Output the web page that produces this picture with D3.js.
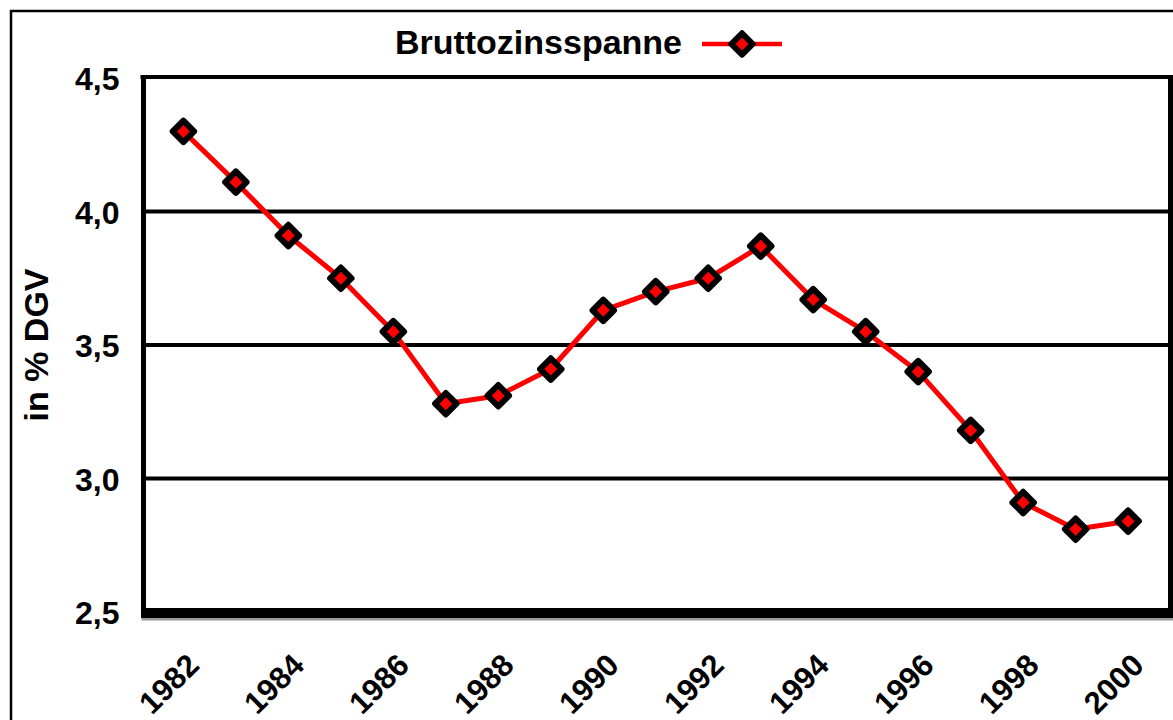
<!DOCTYPE html>
<html>
<head>
<meta charset="utf-8">
<script src="https://cdn.jsdelivr.net/npm/d3@7"></script>
<style>
    body { margin: 0; background: #ffffff; }
    #chart-area { width: 1173px; height: 720px; overflow: hidden; }
    text { font-family: "Liberation Sans", Arial, sans-serif; font-weight: bold; fill: #000; }
</style>
</head>
<body>
<div id="chart-area"></div>
<script>
// data
let years = [1982, 1983, 1984, 1985, 1986, 1987, 1988, 1989, 1990, 1991,
    1992, 1993, 1994, 1995, 1996, 1997, 1998, 1999, 2000];
let spreadValues = [4.30, 4.11, 3.91, 3.75, 3.55, 3.28, 3.31, 3.41, 3.63, 3.70,
    3.75, 3.87, 3.67, 3.55, 3.40, 3.18, 2.91, 2.81, 2.84];
let yTicks = [2.5, 3.0, 3.5, 4.0, 4.5];
let xLabelYears = [1982, 1984, 1986, 1988, 1990, 1992, 1994, 1996, 1998, 2000];
let seriesName = "Bruttozinsspanne";
let yTitle = "in % DGV";

class SpreadChart {

    constructor(_parentElement, _years, _values) {
        this.parentElement = _parentElement;
        this.years = _years;
        this.values = _values;

        this.initVis();
    }

    initVis() {
        let vis = this;

        vis.width = 1173;
        vis.height = 720;
        vis.plot = { left: 143.5, right: 1170.5, top: 78, bottom: 612 };

        vis.svg = d3.select("#" + vis.parentElement).append("svg")
            .attr("width", vis.width)
            .attr("height", vis.height);

        // outer frame
        vis.svg.append("rect")
            .attr("x", 11)
            .attr("y", 11)
            .attr("width", 1300)
            .attr("height", 900)
            .attr("fill", "none")
            .attr("stroke", "black")
            .attr("stroke-width", 2.5);

        vis.x = d3.scalePoint()
            .domain(vis.years)
            .range([vis.plot.left, 1168])
            .padding(0.76);

        vis.y = d3.scaleLinear()
            .domain([2.5, 4.5])
            .range([vis.plot.bottom, vis.plot.top]);

        let de = d3.formatLocale({ decimal: ",", thousands: ".", grouping: [3], currency: ["", "€"] });

        // grid lines
        vis.svg.append("g")
            .attr("class", "grid")
            .selectAll("line")
            .data(yTicks.filter(d => d > 2.5 && d < 4.5))
            .enter()
            .append("line")
            .attr("x1", vis.plot.left)
            .attr("x2", vis.plot.right)
            .attr("y1", d => vis.y(d))
            .attr("y2", d => vis.y(d))
            .attr("stroke", "black")
            .attr("stroke-width", 4);

        // y axis
        vis.yAxis = d3.axisLeft(vis.y)
            .tickValues(yTicks)
            .tickSize(0)
            .tickPadding(24)
            .tickFormat(de.format(".1f"));

        vis.svg.append("g")
            .attr("class", "y-axis")
            .attr("transform", "translate(" + vis.plot.left + ",0)")
            .call(vis.yAxis)
            .call(g => g.select(".domain").remove())
            .selectAll("text")
            .attr("dy", "0.36em")
            .style("font-size", "32px")
            .style("font-family", "Liberation Sans, Arial, sans-serif")
            .style("font-weight", "bold");

        // x axis, every second year labelled
        vis.xAxis = d3.axisBottom(vis.x)
            .tickValues(xLabelYears)
            .tickSize(0)
            .tickFormat(d3.format("d"));

        vis.svg.append("g")
            .attr("class", "x-axis")
            .attr("transform", "translate(0," + vis.plot.bottom + ")")
            .call(vis.xAxis)
            .call(g => g.select(".domain").remove())
            .selectAll("text")
            .attr("text-anchor", "end")
            .attr("dy", null)
            .attr("y", 0)
            .attr("transform", "translate(17,55) rotate(-45)")
            .style("font-size", "31px")
            .style("font-family", "Liberation Sans, Arial, sans-serif")
            .style("font-weight", "bold");

        // plot border: shadow then black frame
        vis.svg.append("line")
            .attr("x1", vis.plot.left - 2)
            .attr("x2", vis.plot.right + 3)
            .attr("y1", vis.plot.bottom + 7)
            .attr("y2", vis.plot.bottom + 7)
            .attr("stroke", "#999")
            .attr("stroke-width", 3);

        vis.svg.append("line")
            .attr("x1", vis.plot.left - 3)
            .attr("x2", vis.plot.right + 3)
            .attr("y1", vis.plot.top - 1)
            .attr("y2", vis.plot.top - 1)
            .attr("stroke", "black")
            .attr("stroke-width", 4);

        vis.svg.append("line")
            .attr("x1", vis.plot.left)
            .attr("x2", vis.plot.left)
            .attr("y1", vis.plot.top - 3)
            .attr("y2", vis.plot.bottom + 5)
            .attr("stroke", "black")
            .attr("stroke-width", 5);

        vis.svg.append("line")
            .attr("x1", vis.plot.right)
            .attr("x2", vis.plot.right)
            .attr("y1", vis.plot.top - 3)
            .attr("y2", vis.plot.bottom + 5)
            .attr("stroke", "black")
            .attr("stroke-width", 5);

        vis.svg.append("line")
            .attr("x1", vis.plot.left - 2.5)
            .attr("x2", vis.plot.right + 2.5)
            .attr("y1", vis.plot.bottom + 1)
            .attr("y2", vis.plot.bottom + 1)
            .attr("stroke", "black")
            .attr("stroke-width", 10);

        // y axis title
        vis.svg.append("text")
            .attr("transform", "translate(48," + (vis.plot.top + vis.plot.bottom) / 2 + ") rotate(-90)")
            .attr("text-anchor", "middle")
            .style("font-size", "34px")
            .text(yTitle);

        // legend
        vis.legend = vis.svg.append("g")
            .attr("class", "legend");

        vis.legend.append("text")
            .attr("x", 682)
            .attr("y", 54)
            .attr("text-anchor", "end")
            .style("font-size", "34px")
            .text(seriesName);

        vis.legend.append("line")
            .attr("x1", 702)
            .attr("x2", 782)
            .attr("y1", 44)
            .attr("y2", 44)
            .attr("stroke", "red")
            .attr("stroke-width", 4.5);

        vis.marker = d3.symbol().type(d3.symbolSquare).size(230);

        vis.legend.append("path")
            .attr("d", vis.marker)
            .attr("transform", "translate(742,44) rotate(45)")
            .attr("fill", "red")
            .attr("stroke", "black")
            .attr("stroke-width", 6)
            .attr("stroke-linejoin", "round");

        vis.wrangleData();
    }

    wrangleData() {
        let vis = this;

        vis.displayData = vis.years.map((yr, i) => ({ year: yr, value: vis.values[i] }));

        vis.updateVis();
    }

    updateVis() {
        let vis = this;

        let line = d3.line()
            .x(d => vis.x(d.year))
            .y(d => vis.y(d.value));

        vis.svg.append("path")
            .datum(vis.displayData)
            .attr("class", "series-line")
            .attr("d", line)
            .attr("fill", "none")
            .attr("stroke", "red")
            .attr("stroke-width", 5)
            .attr("stroke-linejoin", "round");

        vis.svg.selectAll(".marker")
            .data(vis.displayData)
            .enter()
            .append("path")
            .attr("class", "marker")
            .attr("d", vis.marker)
            .attr("transform", d => "translate(" + vis.x(d.year) + "," + vis.y(d.value) + ") rotate(45)")
            .attr("fill", "red")
            .attr("stroke", "black")
            .attr("stroke-width", 6)
            .attr("stroke-linejoin", "round");
    }
}

let chart = new SpreadChart("chart-area", years, spreadValues);
</script>
</body>
</html>
